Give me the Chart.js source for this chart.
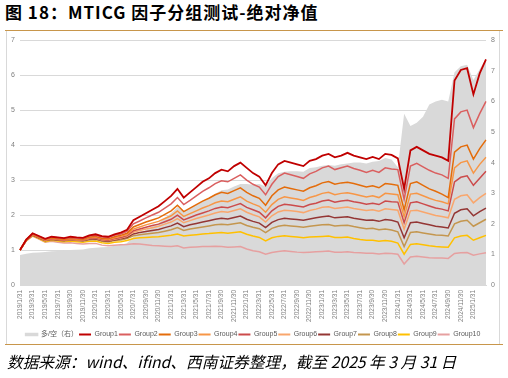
<!DOCTYPE html>
<html><head><meta charset="utf-8">
<script src="https://cdn.jsdelivr.net/npm/chart.js@4.4.1/dist/chart.umd.min.js"></script>
<style>
html,body{margin:0;padding:0;background:#fff;}
#wrap{position:relative;width:508px;height:378px;overflow:hidden;background:#fff;}
#title{position:absolute;left:5px;top:0;font-family:"Noto Sans CJK SC";font-weight:bold;font-size:17px;letter-spacing:1px;line-height:24px;color:#000;white-space:nowrap;}
.rule{position:absolute;left:5px;width:498px;height:0;border-top:1.5px solid #C8964B;}
#frame{position:absolute;left:6px;top:31px;width:492px;height:313px;border-left:1px solid #D9D9D9;border-right:1px solid #D9D9D9;}
#box{position:absolute;left:7px;top:31px;width:492px;height:318px;}
#foot{position:absolute;left:7px;top:350px;font-family:"Noto Sans CJK SC";font-style:italic;font-size:15.7px;line-height:24px;color:#000;white-space:nowrap;}
</style></head>
<body><div id="wrap">
<div id="title">图 18：MTICG 因子分组测试-绝对净值</div>
<div id="frame"></div>
<div id="box"><canvas id="c" width="492" height="318"></canvas></div>
<div class="rule" style="top:30px"></div>
<div class="rule" style="top:344px"></div>
<div id="foot">数据来源：wind、ifind、西南证券整理，截至 2025 年 3 月 31 日</div>
</div>
<script>
const dates = [
"2019/1/31","2019/2/28","2019/3/31","2019/4/30","2019/5/31","2019/6/30","2019/7/31","2019/8/31","2019/9/30","2019/10/31","2019/11/30","2019/12/31",
"2020/1/31","2020/2/29","2020/3/31","2020/4/30","2020/5/31","2020/6/30","2020/7/31","2020/8/31","2020/9/30","2020/10/31","2020/11/30","2020/12/31",
"2021/1/31","2021/2/28","2021/3/31","2021/4/30","2021/5/31","2021/6/30","2021/7/31","2021/8/31","2021/9/30","2021/10/31","2021/11/30","2021/12/31",
"2022/1/31","2022/2/28","2022/3/31","2022/4/30","2022/5/31","2022/6/30","2022/7/31","2022/8/31","2022/9/30","2022/10/31","2022/11/30","2022/12/31",
"2023/1/31","2023/2/28","2023/3/31","2023/4/30","2023/5/31","2023/6/30","2023/7/31","2023/8/31","2023/9/30","2023/10/31","2023/11/30","2023/12/31",
"2024/1/31","2024/2/29","2024/3/31","2024/4/30","2024/5/31","2024/6/30","2024/7/31","2024/8/31","2024/9/30","2024/10/31","2024/11/30","2024/12/31",
"2025/1/31","2025/2/28","2025/3/31"];

const longShort = [
0.98,1.02,1.05,1.06,1.08,1.10,1.11,1.12,1.14,1.15,1.16,1.20,
1.22,1.23,1.24,1.28,1.31,1.37,1.58,1.68,1.80,1.92,2.02,2.18,
2.35,2.55,2.40,2.50,2.62,2.75,2.85,2.98,3.10,3.12,3.22,3.30,
3.30,3.28,3.30,3.22,3.50,3.65,3.70,3.72,3.72,3.70,3.82,3.85,
3.90,3.92,3.90,3.95,3.97,4.00,4.00,3.97,4.03,4.05,4.15,4.10,
3.85,5.60,5.20,5.30,5.50,5.90,6.00,6.05,6.00,6.95,7.15,7.20,
6.70,7.05,7.40];

const group1 = [
1.00,1.30,1.48,1.40,1.32,1.38,1.36,1.34,1.38,1.36,1.35,1.42,
1.45,1.40,1.38,1.45,1.50,1.58,1.85,1.95,2.05,2.15,2.25,2.40,
2.55,2.75,2.50,2.65,2.80,2.95,3.05,3.20,3.30,3.25,3.40,3.50,
3.35,3.20,3.10,2.85,3.20,3.45,3.55,3.50,3.45,3.40,3.55,3.60,
3.70,3.75,3.65,3.70,3.78,3.70,3.65,3.60,3.66,3.60,3.75,3.72,
3.62,2.75,3.85,3.95,3.85,3.75,3.70,3.65,3.55,5.85,6.15,6.20,
5.45,6.05,6.45];
const group2 = [
1.00,1.30,1.47,1.39,1.31,1.37,1.35,1.33,1.36,1.34,1.33,1.40,
1.42,1.37,1.35,1.42,1.46,1.53,1.75,1.83,1.92,2.00,2.08,2.20,
2.32,2.50,2.30,2.42,2.55,2.68,2.78,2.90,2.98,2.95,3.05,3.15,
3.00,2.88,2.80,2.58,2.88,3.10,3.20,3.15,3.10,3.05,3.18,3.25,
3.35,3.40,3.30,3.35,3.40,3.33,3.28,3.22,3.28,3.22,3.35,3.32,
3.30,2.45,3.40,3.48,3.38,3.28,3.20,3.15,3.05,4.75,4.95,5.00,
4.50,4.90,5.25];
const group3 = [
1.00,1.30,1.46,1.38,1.30,1.35,1.33,1.31,1.34,1.32,1.31,1.37,
1.39,1.34,1.32,1.38,1.42,1.48,1.66,1.73,1.80,1.86,1.92,2.02,
2.12,2.28,2.10,2.20,2.30,2.40,2.48,2.58,2.65,2.62,2.70,2.78,
2.65,2.55,2.48,2.28,2.55,2.72,2.80,2.76,2.72,2.68,2.78,2.84,
2.92,2.96,2.88,2.92,2.94,2.90,2.85,2.80,2.84,2.78,2.90,2.88,
2.85,2.15,2.90,2.95,2.85,2.75,2.68,2.60,2.50,3.80,3.95,4.00,
3.60,3.90,4.15];
const group4 = [
1.00,1.30,1.45,1.37,1.29,1.34,1.32,1.30,1.33,1.31,1.30,1.35,
1.37,1.32,1.30,1.35,1.39,1.44,1.60,1.66,1.72,1.77,1.82,1.90,
1.98,2.12,1.96,2.04,2.12,2.20,2.27,2.35,2.40,2.38,2.45,2.52,
2.40,2.32,2.25,2.08,2.30,2.45,2.52,2.49,2.46,2.42,2.50,2.55,
2.62,2.65,2.58,2.62,2.64,2.60,2.56,2.52,2.55,2.50,2.62,2.60,
2.58,1.95,2.60,2.62,2.55,2.48,2.42,2.38,2.32,3.35,3.50,3.55,
3.20,3.45,3.65];
const group5 = [
1.00,1.29,1.44,1.36,1.28,1.33,1.31,1.29,1.32,1.30,1.29,1.34,
1.35,1.30,1.28,1.33,1.36,1.41,1.55,1.60,1.65,1.70,1.74,1.81,
1.88,2.00,1.86,1.93,2.00,2.06,2.12,2.19,2.23,2.21,2.27,2.33,
2.22,2.15,2.08,1.92,2.12,2.25,2.31,2.29,2.26,2.23,2.30,2.34,
2.40,2.43,2.37,2.40,2.42,2.38,2.35,2.31,2.34,2.30,2.40,2.38,
2.37,1.78,2.35,2.38,2.32,2.26,2.20,2.17,2.12,2.95,3.08,3.12,
2.85,3.05,3.25];
const group6 = [
1.00,1.29,1.44,1.36,1.28,1.32,1.30,1.28,1.31,1.29,1.28,1.33,
1.34,1.29,1.27,1.31,1.34,1.39,1.51,1.56,1.60,1.64,1.68,1.74,
1.80,1.90,1.78,1.84,1.90,1.95,2.00,2.06,2.10,2.08,2.13,2.18,
2.08,2.01,1.95,1.80,1.98,2.09,2.14,2.12,2.10,2.07,2.13,2.17,
2.22,2.24,2.19,2.21,2.23,2.19,2.16,2.13,2.15,2.11,2.18,2.16,
2.14,1.60,2.12,2.14,2.09,2.04,1.99,1.96,1.92,2.45,2.55,2.58,
2.35,2.50,2.62];
const group7 = [
1.00,1.28,1.43,1.35,1.27,1.31,1.29,1.27,1.30,1.28,1.27,1.31,
1.32,1.27,1.25,1.29,1.32,1.36,1.46,1.50,1.53,1.56,1.59,1.64,
1.69,1.77,1.67,1.72,1.76,1.80,1.84,1.88,1.91,1.89,1.93,1.97,
1.88,1.82,1.77,1.64,1.79,1.87,1.91,1.89,1.87,1.85,1.89,1.92,
1.95,1.97,1.92,1.94,1.95,1.91,1.88,1.85,1.86,1.82,1.87,1.85,
1.80,1.35,1.78,1.80,1.76,1.72,1.68,1.66,1.63,2.05,2.15,2.18,
1.98,2.10,2.20];
const group8 = [
1.00,1.28,1.42,1.34,1.26,1.30,1.28,1.26,1.29,1.27,1.25,1.29,
1.30,1.25,1.23,1.27,1.29,1.33,1.41,1.44,1.46,1.48,1.50,1.54,
1.58,1.64,1.56,1.60,1.63,1.66,1.69,1.72,1.74,1.72,1.75,1.78,
1.70,1.65,1.61,1.50,1.62,1.68,1.71,1.69,1.67,1.65,1.68,1.70,
1.72,1.73,1.69,1.70,1.71,1.67,1.64,1.61,1.62,1.58,1.60,1.57,
1.52,1.10,1.50,1.52,1.49,1.46,1.43,1.42,1.40,1.75,1.82,1.85,
1.68,1.78,1.88];
const group9 = [
1.00,1.27,1.41,1.33,1.24,1.28,1.26,1.24,1.26,1.24,1.22,1.25,
1.26,1.21,1.19,1.22,1.24,1.27,1.33,1.35,1.36,1.37,1.38,1.40,
1.42,1.46,1.40,1.42,1.44,1.46,1.47,1.49,1.50,1.48,1.50,1.52,
1.45,1.40,1.36,1.26,1.35,1.39,1.41,1.39,1.37,1.35,1.37,1.38,
1.39,1.40,1.36,1.36,1.37,1.33,1.30,1.28,1.28,1.25,1.27,1.25,
1.20,0.88,1.16,1.18,1.15,1.12,1.10,1.09,1.08,1.35,1.40,1.42,
1.28,1.35,1.42];
const group10 = [
1.00,1.26,1.40,1.31,1.22,1.25,1.22,1.20,1.21,1.19,1.17,1.19,
1.19,1.14,1.12,1.14,1.15,1.16,1.18,1.17,1.15,1.13,1.12,1.11,
1.10,1.12,1.06,1.08,1.09,1.10,1.10,1.11,1.10,1.08,1.09,1.10,
1.03,0.98,0.95,0.88,0.93,0.96,0.98,0.96,0.94,0.93,0.94,0.95,
0.96,0.97,0.94,0.94,0.95,0.93,0.92,0.91,0.91,0.89,0.91,0.90,
0.88,0.60,0.80,0.82,0.80,0.78,0.77,0.77,0.76,0.90,0.92,0.93,
0.85,0.89,0.92];

const leftTicks = [0,1,2,3,4,5,6,7];
const rightTicks = [0,1,2,3,4,5,6,7,8];

const groupNames = ["Group1","Group2","Group3","Group4","Group5","Group6","Group7","Group8","Group9","Group10"];
const groupData = [group1,group2,group3,group4,group5,group6,group7,group8,group9,group10];
const groupColors = ["#C00000","#DA5F5F","#E46C0A","#F79646","#CC4B4B","#F9A66C","#943634","#C4964E","#FFC000","#E6A0A0"];

const datasets = [{
  label:"多/空（右）", data:longShort, yAxisID:"y1", fill:"origin",
  backgroundColor:"#D9D9D9", borderColor:"#D9D9D9", borderWidth:0, pointRadius:0, order:1
}];
groupNames.forEach((n,i)=>{
  datasets.push({label:n, data:groupData[i], yAxisID:"y", fill:false,
    borderColor:groupColors[i], backgroundColor:groupColors[i],
    borderWidth: i===0 ? 1.8 : 1.5, pointRadius:0, tension:0, order:0});
});

const tickFont = {family:"'Liberation Sans','Noto Sans CJK SC'", size:7};

new Chart(document.getElementById('c'), {
  type:'line',
  data:{labels:dates, datasets:datasets},
  options:{
    responsive:false, animation:false,
    layout:{padding:{top:9,bottom:1,left:0,right:0}},
    plugins:{
      tooltip:{enabled:false},
      legend:{position:'bottom', labels:{
        boxWidth:12, boxHeight:2, padding:1, color:'#595959',
        font:{family:"'Liberation Sans','Noto Sans CJK SC'", size:7},
        sort:(a,b)=>a.datasetIndex-b.datasetIndex,
        generateLabels:function(chart){
          const items = Chart.defaults.plugins.legend.labels.generateLabels(chart);
          items.forEach(it=>{
            const ds = chart.data.datasets[it.datasetIndex];
            if (ds.fill) { it.fillStyle='#D9D9D9'; it.strokeStyle='#D9D9D9'; it.lineWidth=1.5; }
            else { it.fillStyle=ds.borderColor; it.strokeStyle=ds.borderColor; it.lineWidth=0; }
          });
          return items;
        }
      }}
    },
    scales:{
      x:{type:'category', offset:false,
        grid:{display:false, drawTicks:false},
        border:{display:true, color:'#D9D9D9'},
        ticks:{autoSkip:false, minRotation:90, maxRotation:90, padding:5, color:'#7F7F7F',
          font:{family:"'Liberation Sans'", size:6.5},
          callback:function(v,i){ return (i%2===0 && i<=72) ? dates[i] : ''; }},
        afterFit:s=>{s.height=45;}
      },
      y:{position:'left', min:leftTicks[0], max:leftTicks[leftTicks.length-1],
        ticks:{stepSize:1, padding:5, color:'#7F7F7F', font:tickFont},
        grid:{color:'#D9D9D9', drawTicks:false}, border:{display:false},
        afterFit:s=>{s.width=13;}
      },
      y1:{position:'right', min:rightTicks[0], max:rightTicks[rightTicks.length-1],
        ticks:{stepSize:1, padding:5, color:'#7F7F7F', font:tickFont},
        grid:{drawOnChartArea:false, drawTicks:false}, border:{display:false},
        afterFit:s=>{s.width=13;}
      }
    }
  }
});
</script>
</body></html>
